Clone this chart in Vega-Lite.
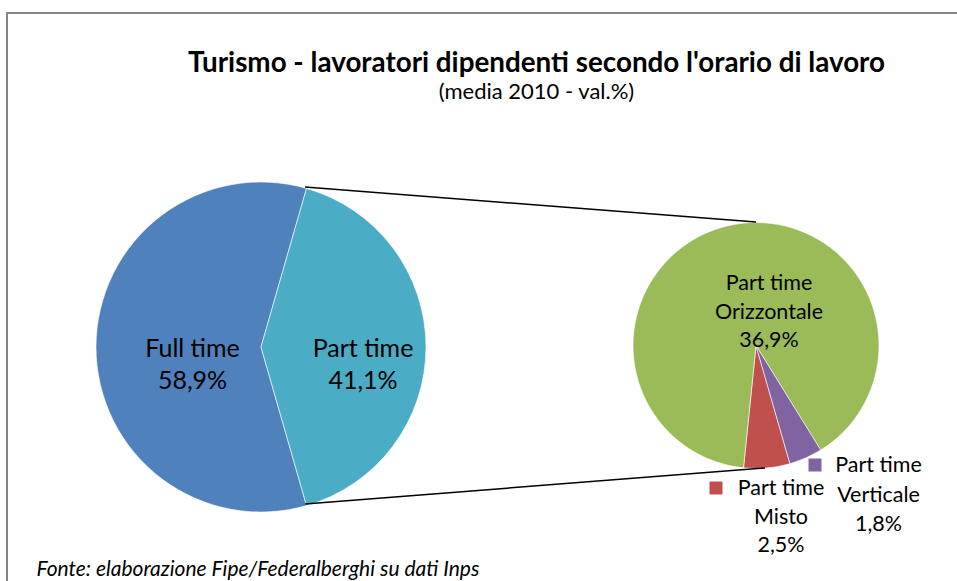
{
  "$schema": "https://vega.github.io/schema/vega-lite/v6.json",
  "width": 953,
  "height": 571,
  "padding": {"left": 7, "top": 13, "right": -3, "bottom": -3},
  "autosize": {"type": "none"},
  "background": "white",
  "config": {"view": {"stroke": "#868686", "strokeWidth": 2}, "font": "Lato"},
  "title": {
    "text": "Turismo - lavoratori dipendenti secondo l'orario di lavoro",
    "subtitle": "(media 2010 - val.%)",
    "anchor": "start",
    "frame": "group",
    "font": "Lato",
    "fontSize": 27.8,
    "fontWeight": "bold",
    "color": "black",
    "subtitleFont": "Lato",
    "subtitleFontSize": 22,
    "subtitleColor": "black",
    "subtitlePadding": 4,
    "align": "center",
    "dx": 529.5,
    "dy": 94
  },
  "datasets": {
    "primary": [
      {"pie": "Primary", "category": "Full time", "value": 58.9, "label": "Full time\n58,9%"},
      {"pie": "Primary", "category": "Part time", "value": 41.1, "label": "Part time\n41,1%"}
    ],
    "secondary": [
      {"pie": "Secondary", "category": "Part time Misto", "value": 2.5, "label": "Part time\nMisto\n2,5%"},
      {"pie": "Secondary", "category": "Part time Orizzontale", "value": 36.9, "label": "Part time\nOrizzontale\n36,9%"},
      {"pie": "Secondary", "category": "Part time Verticale", "value": 1.8, "label": "Part time\nVerticale\n1,8%"}
    ]
  },
  "encoding": {
    "x": {
      "field": "pie", "type": "nominal",
      "scale": {"type": "point", "domain": ["Primary", "Secondary"], "range": [254, 749], "padding": 0},
      "axis": {
        "title": "Fonte: elaborazione Fipe/Federalberghi su dati Inps",
        "labels": false, "ticks": false, "domain": false, "grid": false,
        "titleX": 29, "titleY": -15, "titleAlign": "left", "titleBaseline": "middle",
        "titleFont": "Lato", "titleFontStyle": "italic", "titleFontWeight": "normal",
        "titleFontSize": 21, "titleColor": "black", "titleAnchor": "start"
      }
    },
    "y": {
      "field": "pie", "type": "nominal",
      "scale": {"type": "point", "domain": ["Primary", "Secondary"], "range": [334, 332.5], "padding": 0},
      "axis": null
    }
  },
  "layer": [
    {
      "data": {"name": "primary"},
      "mark": {"type": "arc", "radius": 165, "stroke": "white", "strokeWidth": 0.6},
      "encoding": {
        "theta": {"field": "value", "type": "quantitative", "stack": true, "scale": {"range": [2.862, 9.1452]}},
        "order": {"field": "category", "sort": "ascending"},
        "color": {
          "field": "category", "type": "nominal", "legend": null,
          "scale": {
            "domain": ["Full time", "Part time", "Part time Orizzontale", "Part time Misto", "Part time Verticale"],
            "range": ["#4F81BD", "#4BACC6", "#9BBB59", "#C0504D", "#8064A2"]
          }
        }
      }
    },
    {
      "data": {"name": "secondary"},
      "mark": {"type": "arc", "radius": 123, "stroke": "white", "strokeWidth": 0.6},
      "encoding": {
        "theta": {"field": "value", "type": "quantitative", "stack": true, "scale": {"range": [2.862, 9.1452]}},
        "order": {"field": "category", "sort": "ascending"},
        "color": {"field": "category", "type": "nominal", "legend": null}
      }
    },
    {
      "data": {"values": [{}]},
      "mark": {"type": "rule", "color": "black", "strokeWidth": 1.5},
      "encoding": {
        "x": {"value": 298}, "y": {"value": 174},
        "x2": {"value": 749}, "y2": {"value": 209}
      }
    },
    {
      "data": {"values": [{}]},
      "mark": {"type": "rule", "color": "black", "strokeWidth": 1.5},
      "encoding": {
        "x": {"value": 298}, "y": {"value": 491},
        "x2": {"value": 758}, "y2": {"value": 455}
      }
    },
    {
      "data": {"name": "primary"},
      "transform": [{"filter": "datum.category === 'Full time'"}],
      "mark": {"type": "text", "dx": -68.5, "dy": 2, "lineBreak": "\n", "fontSize": 25, "lineHeight": 32, "align": "center", "baseline": "middle", "color": "black"},
      "encoding": {"text": {"field": "label"}}
    },
    {
      "data": {"name": "primary"},
      "transform": [{"filter": "datum.category === 'Part time'"}],
      "mark": {"type": "text", "dx": 102, "dy": 2, "lineBreak": "\n", "fontSize": 25, "lineHeight": 32, "align": "center", "baseline": "middle", "color": "black"},
      "encoding": {"text": {"field": "label"}}
    },
    {
      "data": {"name": "secondary"},
      "transform": [{"filter": "datum.category === 'Part time Orizzontale'"}],
      "mark": {"type": "text", "dx": 13, "dy": -61.5, "lineBreak": "\n", "fontSize": 21.5, "lineHeight": 28.5, "align": "center", "baseline": "middle", "color": "black"},
      "encoding": {"text": {"field": "label"}}
    },
    {
      "data": {"name": "secondary"},
      "transform": [{"filter": "datum.category === 'Part time Misto'"}],
      "mark": {"type": "text", "dx": 25, "dy": 143.5, "lineBreak": "\n", "fontSize": 21.5, "lineHeight": 28.5, "align": "center", "baseline": "middle", "color": "black"},
      "encoding": {"text": {"field": "label"}}
    },
    {
      "data": {"name": "secondary"},
      "transform": [{"filter": "datum.category === 'Part time Verticale'"}],
      "mark": {"type": "text", "dx": 122.5, "dy": 120.5, "lineBreak": "\n", "fontSize": 21.5, "lineHeight": 29.5, "align": "center", "baseline": "middle", "color": "black"},
      "encoding": {"text": {"field": "label"}}
    },
    {
      "data": {"name": "secondary"},
      "transform": [{"filter": "datum.category === 'Part time Misto'"}],
      "mark": {"type": "square", "size": 169, "filled": true, "opacity": 1, "xOffset": -40, "yOffset": 142.5},
      "encoding": {"color": {"field": "category", "type": "nominal", "legend": null}}
    },
    {
      "data": {"name": "secondary"},
      "transform": [{"filter": "datum.category === 'Part time Verticale'"}],
      "mark": {"type": "square", "size": 169, "filled": true, "opacity": 1, "xOffset": 59, "yOffset": 119.5},
      "encoding": {"color": {"field": "category", "type": "nominal", "legend": null}}
    }
  ],
  "resolve": {"scale": {"theta": "independent"}}
}
